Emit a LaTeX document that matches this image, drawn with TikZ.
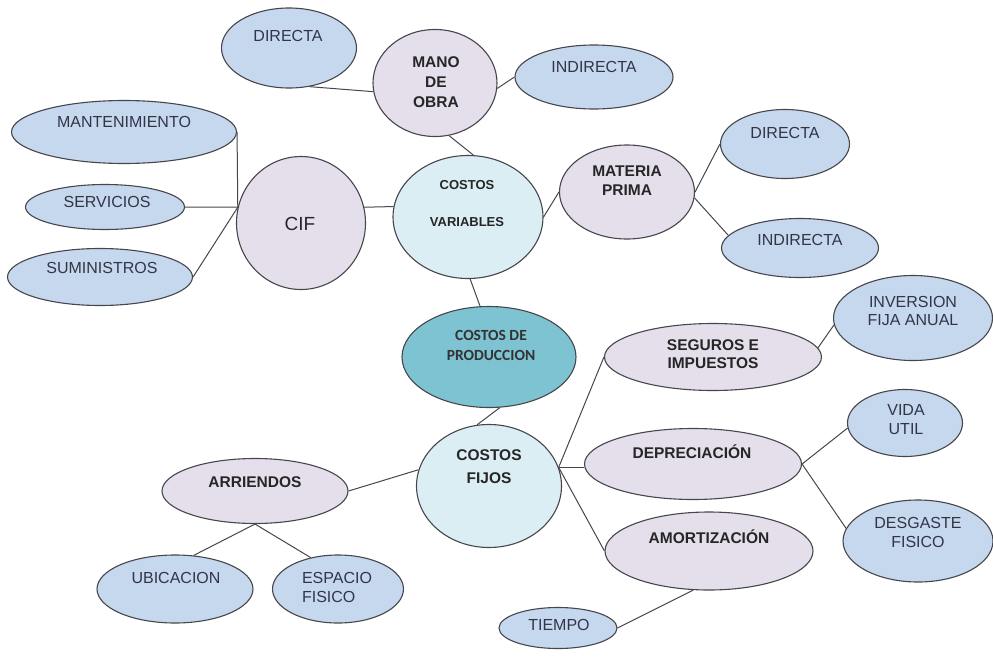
\documentclass[tikz,border=0pt]{standalone}
\usepackage{fontspec}
\setmainfont{Liberation Sans}
\newfontfamily\carlito{Carlito}
\usetikzlibrary{shapes.geometric}

\definecolor{leafblue}{RGB}{198,216,238}
\definecolor{midlav}{RGB}{229,223,236}
\definecolor{branchcyan}{RGB}{219,238,243}
\definecolor{rootteal}{RGB}{126,195,210}
\definecolor{edgegray}{RGB}{70,70,76}
\definecolor{leaftext}{RGB}{50,53,70}

\begin{document}
\begin{tikzpicture}[x=1pt, y=-1pt,
  bub/.style={ellipse, draw=edgegray, line width=1.1pt, inner sep=0pt},
  leaf/.style={bub, fill=leafblue},
  midb/.style={bub, fill=midlav},
  branch/.style={bub, fill=branchcyan},
  rootb/.style={bub, fill=rootteal},
  leaftxt/.style={font=\fontsize{16}{19}\selectfont, text=leaftext, align=center, inner sep=0pt},
  boldtxt/.style={font=\fontsize{15.5}{19}\selectfont\bfseries, text=black!85, align=center, inner sep=0pt},
  ln/.style={draw=edgegray, line width=1pt}]
  \useasboundingbox (0,0) rectangle (993,664);
  % centre and branches
  \node[rootb, minimum width=174, minimum height=101] (cprod) at (489,357) {};
  \node[branch, minimum width=150, minimum height=123] (cvar) at (468,217) {};
  \node[branch, minimum width=145, minimum height=123] (cfij) at (489,486) {};
  % second level
  \node[midb, minimum width=129, minimum height=133] (cif)   at (301,223) {};
  \node[midb, minimum width=124, minimum height=107] (mano)  at (435,83)  {};
  \node[midb, minimum width=135, minimum height=94]  (mp)    at (627,192) {};
  \node[midb, minimum width=186, minimum height=65]  (arr)   at (255,491) {};
  \node[midb, minimum width=217, minimum height=67]  (seg)   at (713,357) {};
  \node[midb, minimum width=217, minimum height=71]  (dep)   at (693,464) {};
  \node[midb, minimum width=208, minimum height=78]  (amort) at (709,551) {};
  % leaf nodes
  \node[leaf, minimum width=135, minimum height=80] (dirMO)  at (289,48)  {};
  \node[leaf, minimum width=158, minimum height=64] (indMO)  at (594,77)  {};
  \node[leaf, minimum width=225, minimum height=63] (mant)   at (124,132) {};
  \node[leaf, minimum width=159, minimum height=45] (serv)   at (105,207) {};
  \node[leaf, minimum width=185, minimum height=57] (sumi)   at (100,277) {};
  \node[leaf, minimum width=129, minimum height=69] (dirMP)  at (785,144) {};
  \node[leaf, minimum width=157, minimum height=59] (indMP)  at (800,248) {};
  \node[leaf, minimum width=159, minimum height=85] (inv)    at (913,318) {};
  \node[leaf, minimum width=156, minimum height=68] (ubic)   at (175,589) {};
  \node[leaf, minimum width=131, minimum height=68] (esp)    at (338,589) {};
  \node[leaf, minimum width=115, minimum height=67] (vida)   at (905,423) {};
  \node[leaf, minimum width=150, minimum height=82] (desg)   at (918,541) {};
  \node[leaf, minimum width=118, minimum height=41] (tiempo) at (558,628) {};
  % edges
  \foreach \from/\to in {dirMO.-62/mano.188, mano.-5/indMO.west, mano.285/cvar.85,
                     mant.east/cif.166, serv.east/cif.166, sumi.east/cif.166,
                     cif.14/cvar.172, cvar.east/mp.west, mp.east/dirMP.west, mp.-5/indMP.170,
                     cvar.-88/cprod.100, cprod.282/cfij.101, cfij.167/arr.east,
                     arr.south/ubic.61, arr.south/esp.131, cfij.15/seg.west, cfij.15/amort.west,
                     seg.5/inv.185, dep.east/vida.185, dep.east/desg.170, amort.248/tiempo.east}
    \draw[ln] (\from) -- (\to);
  \draw[ln] (cfij.15) -- (cfij.15 -| dep.west);
  % texts
  \node[boldtxt, font=\carlito\fontsize{15.5}{20}\selectfont\bfseries, text=black!80] (cprod-t) at (491,345) {COSTOS DE\\PRODUCCION};
  \node[boldtxt, font=\fontsize{13}{19}\selectfont\bfseries] (cvar-t) at (467,204) {COSTOS\\[18pt]VARIABLES};
  \node[boldtxt, font=\fontsize{15.5}{23}\selectfont\bfseries] (cfij-t) at (489,467) {COSTOS\\FIJOS};
  \node[leaftxt, font=\fontsize{19}{20}\selectfont, text=black!85] (cif-t) at (300,224) {CIF};
  \node[boldtxt, font=\fontsize{15.5}{20}\selectfont\bfseries] (mano-t) at (436,82) {MANO\\DE\\OBRA};
  \node[boldtxt] (mp-t) at (627,181) {MATERIA\\PRIMA};
  \node[boldtxt] (arr-t) at (255,482) {ARRIENDOS};
  \node[boldtxt, font=\fontsize{15.5}{18}\selectfont\bfseries] (seg-t) at (713,354) {SEGUROS E\\IMPUESTOS};
  \node[boldtxt] (dep-t) at (692,452) {DEPRECIACIÓN};
  \node[boldtxt] (amort-t) at (709,537) {AMORTIZACIÓN};
  \node[leaftxt] (dirMO-t)  at (288,36)  {DIRECTA};
  \node[leaftxt] (indMO-t)  at (594,67)  {INDIRECTA};
  \node[leaftxt] (mant-t)   at (124,122) {MANTENIMIENTO};
  \node[leaftxt] (serv-t)   at (107,202) {SERVICIOS};
  \node[leaftxt] (sumi-t)   at (102,268) {SUMINISTROS};
  \node[leaftxt] (dirMP-t)  at (785,133) {DIRECTA};
  \node[leaftxt] (indMP-t)  at (800,240) {INDIRECTA};
  \node[leaftxt, font=\fontsize{16}{18}\selectfont] (inv-t) at (913,311) {INVERSION\\FIJA ANUAL};
  \node[leaftxt] (ubic-t)   at (176,578) {UBICACION};
  \node[leaftxt, align=left] (esp-t) at (337,587) {ESPACIO\\FISICO};
  \node[leaftxt] (vida-t)   at (906,420) {VIDA\\UTIL};
  \node[leaftxt] (desg-t)   at (918,532) {DESGASTE\\FISICO};
  \node[leaftxt] (tiempo-t) at (559,625) {TIEMPO};
\end{tikzpicture}
\end{document}
